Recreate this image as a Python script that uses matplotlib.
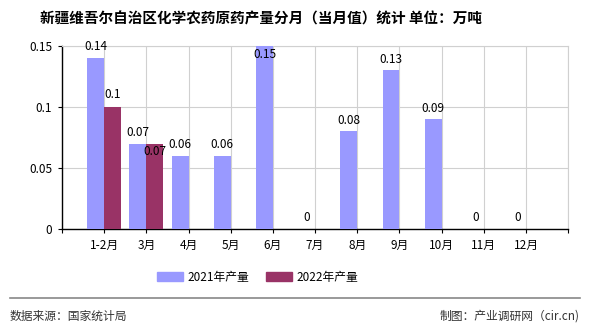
import numpy as np
import matplotlib
matplotlib.use('Agg')
import matplotlib.pyplot as plt
from matplotlib.patches import Patch
from matplotlib.lines import Line2D

plt.rcParams['font.family'] = ['Noto Sans CJK SC', 'DejaVu Sans']

months = ['1-2月', '3月', '4月', '5月', '6月', '7月', '8月', '9月', '10月', '11月', '12月']
prod_2021 = [0.14, 0.07, 0.06, 0.06, 0.15, 0, 0.08, 0.13, 0.09, 0, 0]
prod_2022 = [0.1, 0.07]
series_names = ['2021年产量', '2022年产量']
colors = ['#9999FF', '#993366']

title = '新疆维吾尔自治区化学农药原药产量分月（当月值）统计 单位：万吨'
source = '数据来源：国家统计局'
maker = '制图：产业调研网（cir.cn)'

fig = plt.figure(figsize=(5.9, 3.3), dpi=100)
ax = fig.add_axes([0.105, 0.306, 0.858, 0.555])

x = np.arange(len(months))
w = 0.4
ax.bar(x[:len(prod_2021)] - w / 2, prod_2021, w, color=colors[0], zorder=3)
ax.bar(x[:len(prod_2022)] + w / 2, prod_2022, w, color=colors[1], zorder=3)

ymax = 0.15
for i, v in enumerate(prod_2021):
    dy = -6 if v >= ymax else 8
    ax.annotate(f'{v:g}', (x[i] - w / 2, v), xytext=(0, dy), textcoords='offset points',
                ha='center', va='center', fontsize=8.5, zorder=4)
for i, v in enumerate(prod_2022):
    # 3月 label pushed below the bar top so it does not collide with 2021 label
    dy = -6 if i == 1 else 9
    ax.annotate(f'{v:g}', (x[i] + w / 2, v), xytext=(0, dy), textcoords='offset points',
                ha='center', va='center', fontsize=8.5, zorder=4)

ax.set_xlim(-1, len(months))
ax.set_ylim(0, ymax)
ax.set_yticks([0, 0.05, 0.1, 0.15])
ax.set_yticklabels(['0', '0.05', '0.1', '0.15'], fontsize=8.5)
ax.set_xticks(np.arange(-1, len(months) + 1))
ax.set_xticklabels([''] + months + [''], fontsize=8.5)
ax.tick_params(axis='both', length=3, width=0.8, color='black', pad=4)
ax.grid(True, color='#d0d0d0', linewidth=0.8, zorder=0)
for s in ['top', 'right']:
    ax.spines[s].set_color('#d0d0d0')
    ax.spines[s].set_linewidth(0.8)
for s in ['left', 'bottom']:
    ax.spines[s].set_color('black')
    ax.spines[s].set_linewidth(1)

fig.text(0.442, 0.945, title, ha='center', va='center', fontsize=10.5, fontweight='bold')

handles = [Patch(color=c) for c in colors]
fig.legend(handles, series_names, loc='center', bbox_to_anchor=(0.437, 0.16), ncol=2,
           frameon=False, fontsize=8.5, handlelength=2.2, handleheight=0.8,
           columnspacing=1.4, handletextpad=0.4)

fig.add_artist(Line2D([0.017, 0.983], [0.097, 0.097], color='#888888', linewidth=1.2))
fig.text(0.017, 0.042, source, ha='left', va='center', fontsize=8.5, color='#333333')
fig.text(0.983, 0.042, maker, ha='right', va='center', fontsize=8.5, color='#333333')

fig.savefig('out.png', dpi=100)
